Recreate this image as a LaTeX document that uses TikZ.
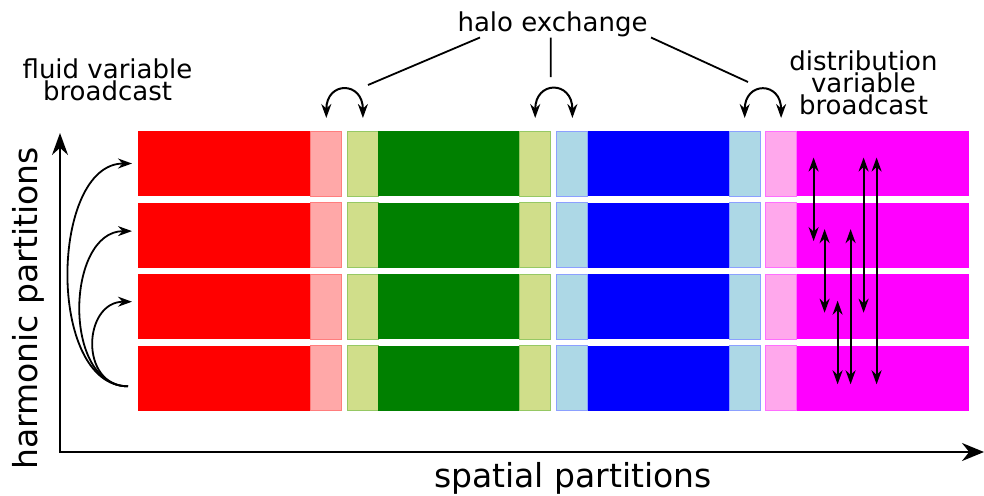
\documentclass[tikz,border=0pt]{standalone}
\usepackage{fontspec}
\setmainfont{DejaVu Sans}
\usetikzlibrary{arrows.meta, positioning}

\definecolor{redhalo}{RGB}{255,168,168}
\definecolor{redline}{RGB}{255,125,125}
\definecolor{grnhalo}{RGB}{208,222,138}
\definecolor{grnline}{RGB}{150,200,100}
\definecolor{bluhalo}{RGB}{173,216,230}
\definecolor{bluline}{RGB}{140,160,255}
\definecolor{maghalo}{RGB}{255,168,236}
\definecolor{magline}{RGB}{255,110,255}
\definecolor{magfull}{RGB}{255,0,255}
\definecolor{grnfull}{RGB}{0,128,0}

\begin{document}
\begin{tikzpicture}[x=0.5pt, y=0.5pt,
    core/.style={minimum width=#1, minimum height=32.5pt, inner sep=0pt, outer sep=0pt},
    halo/.style={core=15.5pt, fill=#1halo, draw=#1line, line width=0.5pt},
    lbl/.style={font=\fontsize{13}{11}\selectfont, align=center, inner sep=0pt},
    big/.style={font=\fontsize{16.5}{19}\selectfont, inner sep=0pt},
    arr/.style={-{Stealth[length=7pt, width=5pt]}, line width=0.9pt},
    dbl/.style={{Stealth[length=7pt, width=5pt]}-{Stealth[length=7pt, width=5pt]}, line width=1pt},
    lead/.style={line width=0.9pt},
    axis/.style={{Stealth[length=11pt, width=8pt]}-{Stealth[length=11pt, width=9pt]}, line width=1pt}
]
    \useasboundingbox (0,0) rectangle (984,495);

    % one row per harmonic partition
    \foreach \i [evaluate=\i as \y using 364-71.6*(\i-1)] in {1,...,4} {
        \node[core=86.4pt, fill=red, anchor=north west] (red\i) at (138,\y) {};
        \node[halo=red, right=0pt of red\i] (rh\i) {};
        \node[halo=grn, right=2.8pt of rh\i] (gl\i) {};
        \node[core=70.65pt, fill=grnfull, right=0pt of gl\i] (grn\i) {};
        \node[halo=grn, right=0pt of grn\i] (gr\i) {};
        \node[halo=blu, right=3.1pt of gr\i] (bl\i) {};
        \node[core=70.65pt, fill=blue, right=0pt of bl\i] (blu\i) {};
        \node[halo=blu, right=0pt of blu\i] (br\i) {};
        \node[halo=mag, right=2.7pt of br\i] (mh\i) {};
        \node[core=86.2pt, fill=magfull, right=0pt of mh\i] (mag\i) {};
    }

    % axes
    \coordinate (o) at (60,43);
    \coordinate (ytip) at (60,362);
    \coordinate (xtip) at (984,43);
    \draw[axis] (ytip) -- (o) -- (xtip);
    \node[big, anchor=base] (sp) at (573,8) {spatial partitions};
    \node[big, anchor=base, rotate=90] (hp) at (37,186.5) {harmonic partitions};

    % halo exchange
    \node[lbl, anchor=base] (hx) at (552.5,463.3) {halo exchange};
    \coordinate (h1) at (368,410);
    \coordinate (h2) at (550.7,418);
    \coordinate (h3) at (748,413);
    \draw[lead] ([xshift=-36.25pt]hx.south) -- (h1);
    \draw[lead] ([xshift=-0.9pt]hx.south) -- (h2);
    \draw[lead] ([xshift=49.25pt]hx.south) -- (h3);
    \draw[dbl] ([yshift=6.5pt]rh1.north) to[out=90, in=90, looseness=2.6] ([yshift=6.5pt]gl1.north);
    \draw[dbl] ([yshift=6.5pt]gr1.north) to[out=90, in=90, looseness=2.6] ([yshift=6.5pt]bl1.north);
    \draw[dbl] ([yshift=6.5pt]br1.north) to[out=90, in=90, looseness=2.6] ([yshift=6.5pt]mh1.north);

    % fluid variable broadcast
    \node[lbl] (fvb) at (107.5,415) {fluid variable\\broadcast};
    \coordinate (fsrc) at ([xshift=-5pt, yshift=-4pt]red4.west);
    \draw[arr] (fsrc) to[out=180, in=180, looseness=0.94] ([xshift=-3pt]red1.west);
    \draw[arr] (fsrc) to[out=180, in=180, looseness=1.09] ([xshift=-3pt, yshift=2pt]red2.west);
    \draw[arr] (fsrc) to[out=180, in=180, looseness=1.48] ([xshift=-3pt, yshift=2.5pt]red3.west);

    % distribution variable broadcast
    \node[lbl] (dvb) at (863.5,412) {distribution\\variable\\broadcast};
    \foreach \dx/\a/\b in {8.5/1/2, 14/2/3, 20.5/3/4, 27/2/4, 33.5/1/3, 40/1/4}
        \draw[dbl] ([xshift=\dx pt, yshift=3pt]mag\a.west) -- ([xshift=\dx pt, yshift=-3pt]mag\b.west);
\end{tikzpicture}
\end{document}
